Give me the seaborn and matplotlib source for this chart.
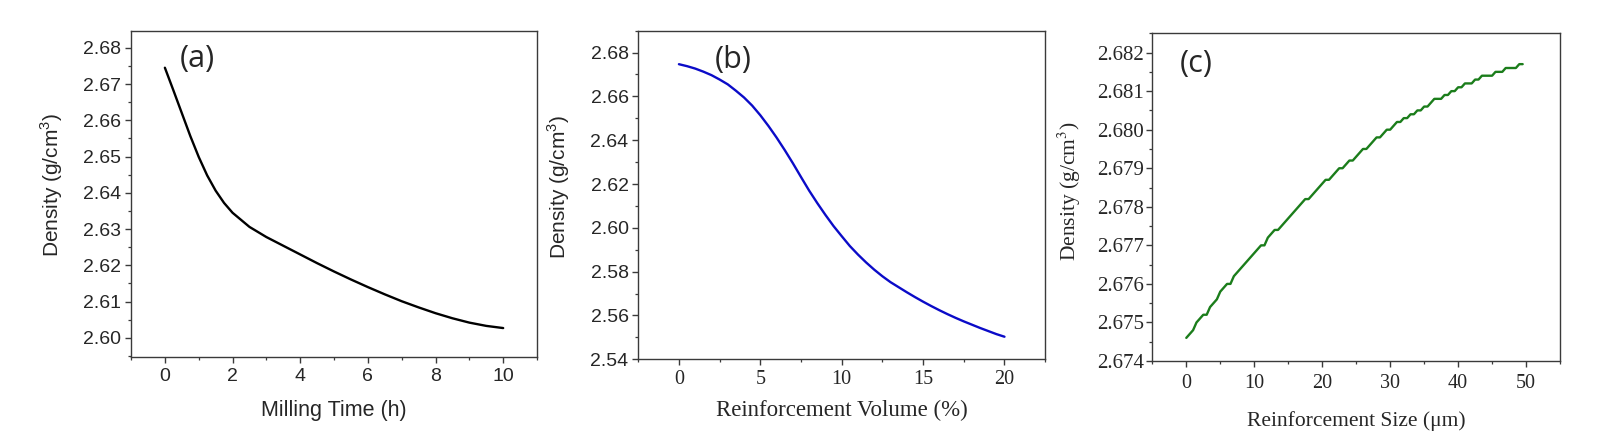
import matplotlib
matplotlib.use("Agg")
from matplotlib import pyplot as plt
from matplotlib.ticker import MultipleLocator, FormatStrFormatter
import seaborn as sns

# (a) density vs milling time
milling_time = [0, 0.25, 0.5, 0.75, 1.0, 1.25, 1.5, 1.75, 2.0, 2.5, 3.0, 3.5, 4.0,
                4.5, 5.0, 5.5, 6.0, 6.5, 7.0, 7.5, 8.0, 8.5, 9.0, 9.5, 10.0]
density_a = [2.6745, 2.6683, 2.6620, 2.6557, 2.6499, 2.6448, 2.6406, 2.6372, 2.6345,
             2.6306, 2.6278, 2.6254, 2.6230, 2.6206, 2.6183, 2.6161, 2.6140, 2.6120,
             2.6101, 2.6084, 2.6068, 2.6054, 2.6042, 2.6033, 2.6027]

# (b) density vs reinforcement volume
reinf_volume = [i * 0.5 for i in range(41)]
density_b = [2.6747, 2.6738, 2.6727, 2.6713, 2.6697, 2.6677, 2.6655, 2.6626, 2.6595,
             2.6558, 2.6514, 2.6465, 2.6412, 2.6355, 2.6295, 2.6232, 2.6170, 2.6113,
             2.6059, 2.6008, 2.5962, 2.5917, 2.5878, 2.5842, 2.5809, 2.5779, 2.5752,
             2.5729, 2.5706, 2.5684, 2.5663, 2.5643, 2.5624, 2.5606, 2.5589, 2.5573,
             2.5558, 2.5543, 2.5529, 2.5515, 2.5503]

# (c) density vs reinforcement size (values stored to 4 decimals -> staircase)
reinf_size = [i * 0.5 for i in range(100)]
density_c = [2.6746, 2.6747, 2.6748, 2.6750, 2.6751, 2.6752, 2.6752, 2.6754, 2.6755, 2.6756,
             2.6758, 2.6759, 2.6760, 2.6760, 2.6762, 2.6763, 2.6764, 2.6765, 2.6766, 2.6767,
             2.6768, 2.6769, 2.6770, 2.6770, 2.6772, 2.6773, 2.6774, 2.6774, 2.6775, 2.6776,
             2.6777, 2.6778, 2.6779, 2.6780, 2.6781, 2.6782, 2.6782, 2.6783, 2.6784, 2.6785,
             2.6786, 2.6787, 2.6787, 2.6788, 2.6789, 2.6790, 2.6790, 2.6791, 2.6792, 2.6792,
             2.6793, 2.6794, 2.6795, 2.6795, 2.6796, 2.6797, 2.6798, 2.6798, 2.6799, 2.6800,
             2.6800, 2.6801, 2.6802, 2.6802, 2.6803, 2.6803, 2.6804, 2.6804, 2.6805, 2.6805,
             2.6806, 2.6806, 2.6807, 2.6808, 2.6808, 2.6808, 2.6809, 2.6809, 2.6810, 2.6810,
             2.6811, 2.6811, 2.6812, 2.6812, 2.6812, 2.6813, 2.6813, 2.6814, 2.6814, 2.6814,
             2.6814, 2.6815, 2.6815, 2.6815, 2.6816, 2.6816, 2.6816, 2.6816, 2.6817, 2.6817]

sns.set_style("ticks")
plt.rcParams["mathtext.fontset"] = "custom"
plt.rcParams["mathtext.rm"] = "Liberation Sans"

SANS = "Liberation Sans"
SERIF = "Liberation Serif"
LABEL_FONT = "Open Sans"

fig = plt.figure(figsize=(16.04, 4.44), dpi=100)
ax_a = fig.add_axes([0.0817, 0.1966, 0.2531, 0.7342])
ax_b = fig.add_axes([0.3979, 0.1908, 0.2537, 0.7401])
ax_c = fig.add_axes([0.7184, 0.1869, 0.2542, 0.7381])

sns.lineplot(x=milling_time, y=density_a, ax=ax_a, color="black", linewidth=1.7)
sns.lineplot(x=reinf_volume, y=density_b, ax=ax_b, color="#0b0bc8", linewidth=1.7)
sns.lineplot(x=reinf_size, y=density_c, ax=ax_c, color="#1b7d1b", linewidth=1.7)


def style_axis(ax, xfont, yfont, xsize, ysize, xpad=4, ypad=3):
    for sp in ax.spines.values():
        sp.set_visible(True)
        sp.set_color("#3a3a3a")
        sp.set_linewidth(1.0)
    ax.tick_params(which="major", direction="out", length=4, width=1.0,
                   color="#3a3a3a", top=False, right=False)
    ax.tick_params(which="minor", direction="out", length=2.5, width=0.9,
                   color="#3a3a3a", top=False, right=False)
    ax.tick_params(axis="x", pad=xpad)
    ax.tick_params(axis="y", pad=ypad)
    for t in ax.get_xticklabels():
        t.set_fontfamily(xfont)
        t.set_fontsize(xsize)
    for t in ax.get_yticklabels():
        t.set_fontfamily(yfont)
        t.set_fontsize(ysize)


# panel (a)
ax_a.set_xlim(-1, 11)
ax_a.set_ylim(2.5948, 2.6847)
ax_a.xaxis.set_major_locator(MultipleLocator(2))
ax_a.xaxis.set_minor_locator(MultipleLocator(1))
ax_a.yaxis.set_major_locator(MultipleLocator(0.01))
ax_a.yaxis.set_minor_locator(MultipleLocator(0.005))
ax_a.yaxis.set_major_formatter(FormatStrFormatter("%.2f"))
style_axis(ax_a, SANS, SANS, 14, 14)
ax_a.set_xlabel("Milling Time (h)", fontfamily=SANS, fontsize=15.5, va="center")
ax_a.set_ylabel("Density (g/cm$^3$)", fontfamily=SANS, fontsize=15, va="center")
ax_a.xaxis.set_label_coords(0.5, -0.164)
ax_a.yaxis.set_label_coords(-0.196, 0.527)
ax_a.text(0.162, 0.912, "(a)", transform=ax_a.transAxes, ha="center", va="center",
          fontfamily=LABEL_FONT, fontsize=22)

# panel (b)
ax_b.set_xlim(-2.5, 22.5)
ax_b.set_ylim(2.54, 2.69)
ax_b.xaxis.set_major_locator(MultipleLocator(5))
ax_b.xaxis.set_minor_locator(MultipleLocator(2.5))
ax_b.yaxis.set_major_locator(MultipleLocator(0.02))
ax_b.yaxis.set_minor_locator(MultipleLocator(0.01))
ax_b.yaxis.set_major_formatter(FormatStrFormatter("%.2f"))
style_axis(ax_b, SERIF, SANS, 14.5, 14)
ax_b.set_xlabel("Reinforcement Volume (%)", fontfamily=SERIF, fontsize=16.5, va="center")
ax_b.set_ylabel("Density (g/cm$^3$)", fontfamily=SANS, fontsize=15, va="center")
ax_b.xaxis.set_label_coords(0.5, -0.155)
ax_b.yaxis.set_label_coords(-0.196, 0.525)
ax_b.text(0.2334, 0.912, "(b)", transform=ax_b.transAxes, ha="center", va="center",
          fontfamily=LABEL_FONT, fontsize=22)

# panel (c)
ax_c.set_xlim(-5, 55)
ax_c.set_ylim(2.674, 2.6825)
ax_c.xaxis.set_major_locator(MultipleLocator(10))
ax_c.xaxis.set_minor_locator(MultipleLocator(5))
ax_c.yaxis.set_major_locator(MultipleLocator(0.001))
ax_c.yaxis.set_minor_locator(MultipleLocator(0.0005))
ax_c.yaxis.set_major_formatter(FormatStrFormatter("%.3f"))
style_axis(ax_c, SERIF, SERIF, 14.5, 15, xpad=5, ypad=2)
ax_c.set_xlabel("Reinforcement Size (\u03bcm)", fontfamily=SERIF, fontsize=15.5, va="center")
ylab_c = ax_c.set_ylabel("Density (g/cm$^3$)", fontfamily=SERIF, fontsize=15.5, va="center")
ylab_c.set_math_fontfamily("stix")
ax_c.xaxis.set_label_coords(0.5, -0.182)
ax_c.yaxis.set_label_coords(-0.203, 0.519)
ax_c.text(0.1077, 0.907, "(c)", transform=ax_c.transAxes, ha="center", va="center",
          fontfamily=LABEL_FONT, fontsize=22)

fig.savefig("out.png", dpi=100)
